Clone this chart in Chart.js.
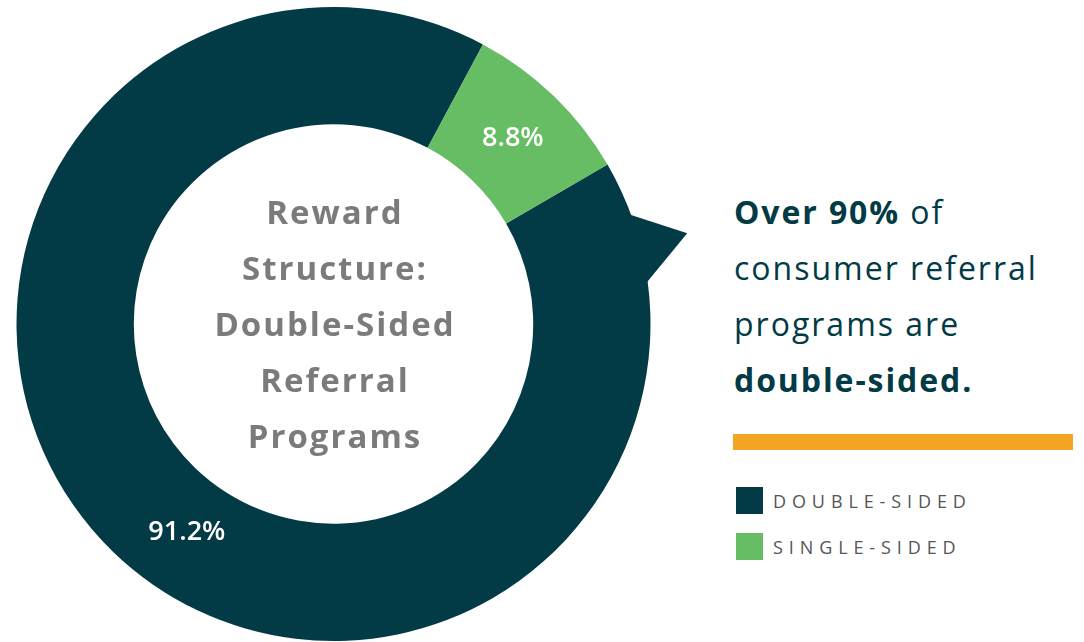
<!DOCTYPE html>
<html>
<head>
<meta charset="utf-8">
<script src="https://cdn.jsdelivr.net/npm/chart.js@4.4.1/dist/chart.umd.min.js"></script>
<style>
  html, body { margin: 0; padding: 0; background: #fff; }
  body { width: 1084px; height: 642px; position: relative; overflow: hidden; font-family: 'Open Sans', sans-serif; }
  #wrap { position: absolute; left: 0; top: 0; width: 700px; height: 642px; }
  .center-title {
    position: absolute; left: 175px; width: 320px; top: 184px;
    text-align: center; color: #7b7b7b; font-weight: 700; font-size: 33px; line-height: 56px;
    letter-spacing: 2px;
  }
  .headline {
    position: absolute; left: 734px; top: 184px; color: #023a46;
    font-size: 32px; line-height: 56px; letter-spacing: 2px;
  }
  .headline b { font-weight: 700; letter-spacing: 1.9px; }
  .rule { position: absolute; left: 733px; top: 434px; width: 340px; height: 16px; background: #f4a623; }
  .legend { position: absolute; left: 736px; top: 487px; }
  .legend-item { display: flex; align-items: center; height: 27px; margin-bottom: 19px; }
  .legend-item .sw { width: 27px; height: 27px; margin-right: 10px; }
  .legend-item span { font-size: 18px; letter-spacing: 5.9px; color: #555; }
</style>
</head>
<body>
<div id="wrap"><canvas id="chart" width="700" height="642"></canvas></div>
<div class="center-title">Reward<br>Structure:<br>Double-Sided<br>Referral<br>Programs</div>
<div class="headline"><b>Over 90%</b> of<br>consumer referral<br>programs are<br><b>double-sided.</b></div>
<div class="rule"></div>
<div class="legend" id="legend"></div>

<script>
// data
const categories = ['Double-Sided', 'Single-Sided'];
const shares = [91.2, 8.8];
const colors = ['#023a46', '#66bd63'];

// legend built from the same arrays
const legendEl = document.getElementById('legend');
categories.forEach((c, i) => {
  const row = document.createElement('div');
  row.className = 'legend-item';
  row.innerHTML = `<div class="sw" style="background:${colors[i]}"></div><span>${c.toUpperCase()}</span>`;
  legendEl.appendChild(row);
});

// callout pointer sticking out of the big slice + value labels
const calloutPlugin = {
  id: 'callout',
  afterDatasetsDraw(chart, args, opts) {
    const ctx = chart.ctx;
    const arcs = chart.getDatasetMeta(0).data;
    const a = arcs[0];
    const R = a.outerRadius;
    const deg = Math.PI / 180;
    const pt = (ang, r) => {
      const t = (ang - 90) * deg;
      return [a.x + Math.cos(t) * r, a.y + Math.sin(t) * r];
    };

    // pointer
    ctx.save();
    ctx.fillStyle = colors[0];
    ctx.beginPath();
    const p1 = pt(69.6, R - 2), p2 = pt(75.6, R * 1.152), p3 = pt(82.6, R - 2), p4 = pt(76, R - 30);
    ctx.moveTo(...p1); ctx.lineTo(...p2); ctx.lineTo(...p3); ctx.lineTo(...p4);
    ctx.closePath();
    ctx.fill();
    ctx.restore();

    // value labels
    ctx.save();
    ctx.fillStyle = '#fff';
    ctx.font = '600 27px "Open Sans"';
    ctx.textAlign = 'center';
    ctx.textBaseline = 'middle';
    arcs.forEach((arc, i) => {
      const mid = (arc.innerRadius + arc.outerRadius) / 2;
      let x, y;
      if (opts.labelAngles[i] != null) {
        [x, y] = pt(opts.labelAngles[i], mid - 4);
      } else {
        const c = arc.getCenterPoint();
        x = c.x; y = c.y;
      }
      ctx.fillText(shares[i] + '%', x, y);
    });
    ctx.restore();
  }
};

new Chart(document.getElementById('chart'), {
  type: 'doughnut',
  data: {
    labels: categories,
    datasets: [{
      data: shares,
      backgroundColor: colors,
      borderWidth: 0,
      hoverOffset: 0
    }]
  },
  options: {
    responsive: false,
    animation: false,
    rotation: 59.8,
    cutout: '63%',
    layout: { padding: { left: 16, right: 49, top: 7, bottom: 1 } },
    events: [],
    plugins: {
      legend: { display: false },
      tooltip: { enabled: false },
      callout: { labelAngles: [215.2, null] }
    }
  },
  plugins: [calloutPlugin]
});
</script>
</body>
</html>
